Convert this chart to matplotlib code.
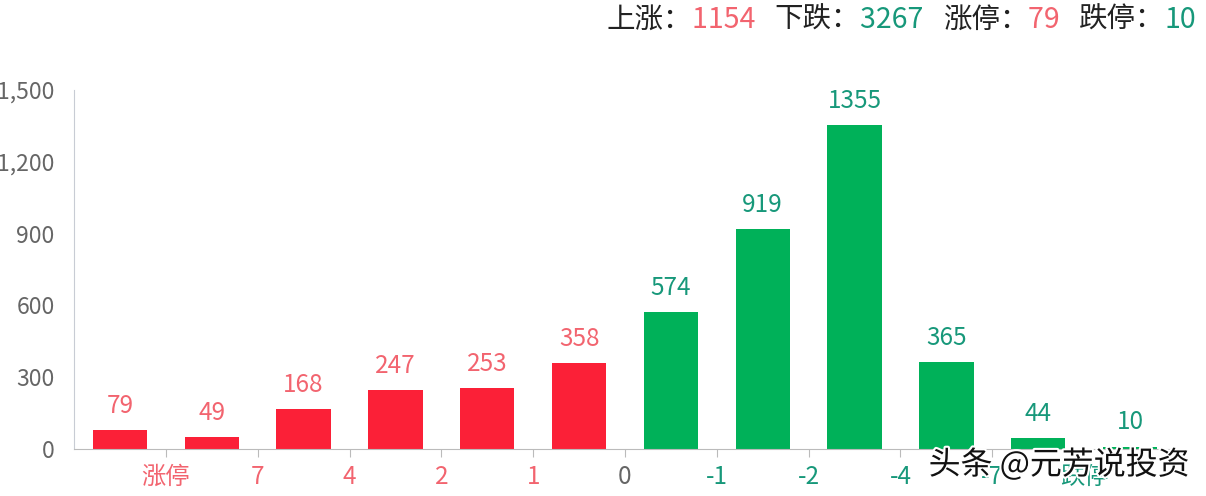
import matplotlib.pyplot as plt
import matplotlib.patheffects as pe

plt.rcParams['font.family'] = ['Noto Sans CJK SC', 'DejaVu Sans']

# bar counts, left to right
counts = [79, 49, 168, 247, 253, 358, 574, 919, 1355, 365, 44, 10]
n_up = 6
# tick labels sit on the boundaries between bars
tick_labels = ['涨停', '7', '4', '2', '1', '0', '-1', '-2', '-4', '-7', '跌停']
summary = [('上涨：', '1154', 'up'), ('下跌：', '3267', 'down'),
           ('涨停：', '79', 'up'), ('跌停：', '10', 'down')]

red_bar = '#fb2037'
green_bar = '#00b159'
red_text = '#f2646f'
green_text = '#17987a'
grey = '#666666'

fig = plt.figure(figsize=(12.06, 4.96), dpi=100)
ax = fig.add_axes([74 / 1206, 47 / 496, 1102 / 1206, 359 / 496])

x = list(range(len(counts)))
colors = [red_bar if i < n_up else green_bar for i in x]
ax.bar(x, counts, width=0.59, color=colors)

for i, v in enumerate(counts):
    ax.annotate(str(v), (i, v), xytext=(0, 8), textcoords='offset points',
                ha='center', va='bottom', fontsize=17.5,
                color=red_text if i < n_up else green_text)

ax.set_xlim(-0.5, len(counts) - 0.5)
ax.set_ylim(0, 1500)
ax.set_yticks([0, 300, 600, 900, 1200, 1500])
ax.set_yticklabels(['0', '300', '600', '900', '1,200', '1,500'])
ax.tick_params(axis='y', length=0, labelsize=16.5, labelcolor=grey, pad=14)

tick_pos = [i + 0.5 for i in range(len(tick_labels))]
ax.set_xticks(tick_pos)
ax.set_xticklabels(tick_labels)
ax.tick_params(axis='x', length=6, color='#bbbbbb', labelsize=17.5, pad=5)
for i, lab in enumerate(ax.get_xticklabels()):
    if i < 5:
        lab.set_color(red_text)
    elif i == 5:
        lab.set_color(grey)
    else:
        lab.set_color(green_text)

for s in ['top', 'right']:
    ax.spines[s].set_visible(False)
ax.spines['left'].set_color('#c8ccd4')
ax.spines['bottom'].set_color('#bbbbbb')

# summary line at the top right
xr = 1196 / 1206
parts = []
for lab, num, kind in summary:
    parts.append((lab, '#222222'))
    parts.append((num + '   ', red_text if kind == 'up' else green_text))
parts[-1] = (parts[-1][0].strip(), parts[-1][1])
renderer = fig.canvas.get_renderer()
for txt, col in reversed(parts):
    t = fig.text(xr, 476 / 496, txt, ha='right', va='center',
                 fontsize=20.5, color=col)
    bb = t.get_window_extent(renderer=renderer)
    xr -= bb.width / (1206)

# watermark
fig.text(1190 / 1206, 31 / 496, '头条 @元芳说投资', ha='right', va='center',
         fontsize=23, color='#111111',
         path_effects=[pe.withStroke(linewidth=3, foreground='white')])

fig.savefig('out.png', dpi=100, facecolor='white')
